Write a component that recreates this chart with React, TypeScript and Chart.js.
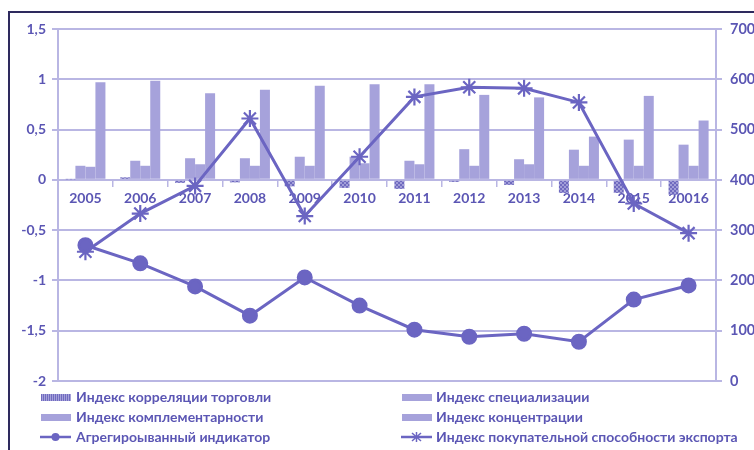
import React, { useEffect, useRef } from "react";
import { Chart, registerables } from "chart.js";
Chart.register(...registerables);

const categories = ["2005", "2006", "2007", "2008", "2009", "2010", "2011", "2012", "2013", "2014", "2015", "20016"];
const correlation = [0.005, 0.025, -0.03, -0.025, -0.065, -0.08, -0.09, -0.02, -0.05, -0.13, -0.13, -0.15];
const specialization = [0.14, 0.19, 0.215, 0.215, 0.23, 0.23, 0.19, 0.305, 0.205, 0.3, 0.4, 0.35];
const complementarity = [0.13, 0.14, 0.155, 0.14, 0.14, 0.165, 0.155, 0.14, 0.155, 0.14, 0.14, 0.14];
const concentration = [0.97, 0.985, 0.86, 0.895, 0.935, 0.95, 0.95, 0.845, 0.82, 0.43, 0.835, 0.59];
const aggregated = [-0.65, -0.83, -1.06, -1.35, -0.97, -1.25, -1.49, -1.56, -1.53, -1.61, -1.19, -1.05];
const purchasingPower = [257, 333, 388, 522, 328, 446, 565, 584, 582, 554, 353, 294];

const seriesNames = [
  "Индекс корреляции торговли",
  "Индекс специализации",
  "Индекс комплементарности",
  "Индекс концентрации",
  "Агрегироыванный индикатор",
  "Индекс покупательной способности экспорта",
];

const TEXT = "#5b56b4";
const BAR = "#a6a2db";
const LINE = "#6b65c2";
const GRID = "#b9b6e3";
const FONT = "Lato";

function makePattern(): CanvasPattern | string {
  const c = document.createElement("canvas");
  c.width = 4;
  c.height = 4;
  const g = c.getContext("2d");
  if (!g) return "#8a85cc";
  g.fillStyle = "#a19dd8";
  g.fillRect(0, 0, 4, 4);
  g.fillStyle = "#6f6abf";
  g.fillRect(0, 0, 2, 2);
  g.fillRect(2, 2, 2, 2);
  const p = g.createPattern(c, "repeat");
  return p || "#8a85cc";
}

export default function App() {
  const ref = useRef<HTMLCanvasElement>(null);

  useEffect(() => {
    if (!ref.current) return;
    const pattern = makePattern();
    const chart = new Chart(ref.current, {
      type: "bar",
      data: {
        labels: categories,
        datasets: [
          { type: "line", label: seriesNames[4], data: aggregated, yAxisID: "y", borderColor: LINE, backgroundColor: LINE, borderWidth: 3, pointStyle: "circle", pointRadius: 6.5, pointBackgroundColor: LINE, pointBorderColor: LINE, tension: 0, order: 1 },
          { type: "line", label: seriesNames[5], data: purchasingPower, yAxisID: "y1", borderColor: LINE, backgroundColor: LINE, borderWidth: 3, pointStyle: "star", pointRadius: 8.5, pointBorderWidth: 2.2, pointBorderColor: LINE, tension: 0, order: 2 },
          { type: "bar", label: seriesNames[0], data: correlation, yAxisID: "y", backgroundColor: pattern as any, order: 5 },
          { type: "bar", label: seriesNames[1], data: specialization, yAxisID: "y", backgroundColor: BAR, order: 5 },
          { type: "bar", label: seriesNames[2], data: complementarity, yAxisID: "y", backgroundColor: BAR, order: 5 },
          { type: "bar", label: seriesNames[3], data: concentration, yAxisID: "y", backgroundColor: BAR, order: 5 },
        ],
      },
      options: {
        responsive: false,
        animation: false,
        devicePixelRatio: 1,
        datasets: { bar: { barPercentage: 1, categoryPercentage: 0.73 } },
        layout: { padding: { top: 29, bottom: 69, left: 0, right: 0 } },
        plugins: { legend: { display: false }, tooltip: { enabled: false } },
        scales: {
          x: {
            position: { y: 0 } as any,
            offset: true,
            grid: { display: true, drawOnChartArea: false, drawTicks: true, tickLength: 6, color: GRID, lineWidth: 1.5, offset: true },
            border: { display: true, color: GRID, width: 2 },
            ticks: { color: TEXT, font: { family: FONT, size: 14, weight: "bold" }, padding: 4, maxRotation: 0, autoSkip: false },
          },
          y: {
            position: "left",
            min: -2,
            max: 1.5,
            afterFit: (s: any) => { s.width = 58; },
            ticks: { stepSize: 0.5, color: TEXT, font: { family: FONT, size: 14, weight: "bold" }, padding: 6, callback: (v: any) => String(v).replace(".", ",") },
            grid: { color: GRID, lineWidth: 2, tickLength: 6 },
            border: { display: true, color: GRID, width: 2 },
          },
          y1: {
            position: "right",
            min: 0,
            max: 700,
            afterFit: (s: any) => { s.width = 74; },
            ticks: { stepSize: 100, color: TEXT, font: { family: FONT, size: 14.5, weight: "bold" }, padding: 8 },
            grid: { drawOnChartArea: false, color: GRID, lineWidth: 2, tickLength: 6 },
            border: { display: true, color: GRID, width: 2 },
          },
        },
      },
    });
    return () => chart.destroy();
  }, []);

  const legendText: React.CSSProperties = {
    position: "absolute",
    fontFamily: FONT,
    fontWeight: 700,
    fontSize: 14,
    color: TEXT,
    whiteSpace: "nowrap",
    lineHeight: "16px",
  };

  const barSwatch = (x: number, y: number, bg: string, hatch = false) => (
    <div style={{ position: "absolute", left: x, top: y - 3, width: 30, height: 7, background: bg, backgroundImage: hatch ? "repeating-linear-gradient(90deg, #716cc0 0 1px, #a6a2da 1px 2px)" : undefined }} />
  );

  const lineSwatch = (x: number, y: number, marker: "circle" | "star") => (
    <svg style={{ position: "absolute", left: x, top: y - 8 }} width={32} height={16}>
      <line x1={0} y1={8} x2={31} y2={8} stroke={LINE} strokeWidth={2.5} />
      {marker === "circle" ? (
        <circle cx={15.5} cy={8} r={4} fill={LINE} />
      ) : (
        <g stroke={LINE} strokeWidth={1.5}>
          <line x1={15.5} y1={3} x2={15.5} y2={13} />
          <line x1={11} y1={4} x2={20} y2={12} />
          <line x1={20} y1={4} x2={11} y2={12} />
        </g>
      )}
    </svg>
  );

  const rows = [397, 417, 437];

  return (
    <div style={{ position: "fixed", left: 0, top: 0, width: 754, height: 450, overflow: "hidden", background: "#fff" }}>
      <canvas ref={ref} width={790} height={450} style={{ position: "absolute", left: 0, top: 0, width: 790, height: 450 }} />
      <div style={{ position: "absolute", left: 8, top: 11, width: 760, height: 2, background: "#2e2a5e" }} />
      <div style={{ position: "absolute", left: 8, top: 11, width: 2, height: 450, background: "#2e2a5e" }} />
      {barSwatch(41, rows[0], "#8c87cd", true)}
      <div style={{ ...legendText, left: 76, top: rows[0] - 8 }}>{seriesNames[0]}</div>
      {barSwatch(41, rows[1], BAR)}
      <div style={{ ...legendText, left: 76, top: rows[1] - 8 }}>{seriesNames[2]}</div>
      {lineSwatch(40, rows[2], "circle")}
      <div style={{ ...legendText, left: 76, top: rows[2] - 8 }}>{seriesNames[4]}</div>
      {barSwatch(402, rows[0], BAR)}
      <div style={{ ...legendText, left: 436, top: rows[0] - 8 }}>{seriesNames[1]}</div>
      {barSwatch(402, rows[1], BAR)}
      <div style={{ ...legendText, left: 436, top: rows[1] - 8 }}>{seriesNames[3]}</div>
      {lineSwatch(401, rows[2], "star")}
      <div style={{ ...legendText, left: 436, top: rows[2] - 8 }}>{seriesNames[5]}</div>
    </div>
  );
}
